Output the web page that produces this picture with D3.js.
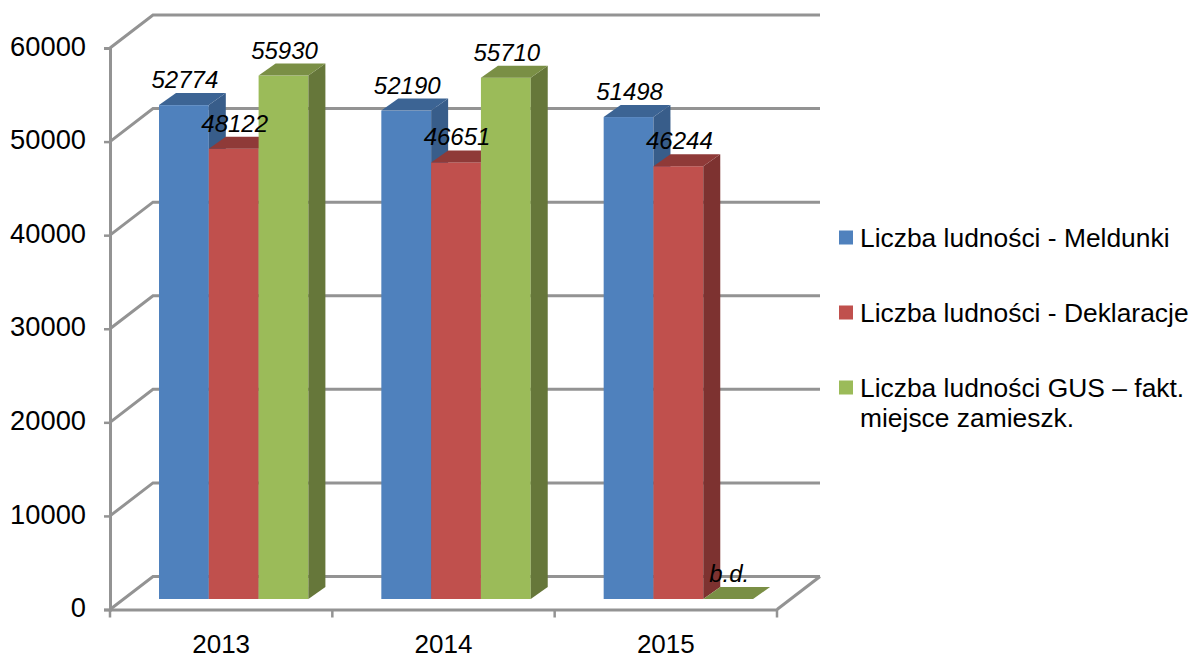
<!DOCTYPE html>
<html>
<head>
<meta charset="utf-8">
<script src="https://cdn.jsdelivr.net/npm/d3@7"></script>
<style>
  body { margin: 0; background: #fff; }
  text { font-family: "Liberation Sans", Arial, sans-serif; fill: #000; }
</style>
</head>
<body>
<div id="chart"></div>
<script>
var years = ["2013", "2014", "2015"];
var seriesNames = ["Liczba ludności - Meldunki", "Liczba ludności - Deklaracje", "Liczba ludności GUS – fakt."];
var meldunki = [52774, 52190, 51498];
var deklaracje = [48122, 46651, 46244];
var gus = [55930, 55710, null];   // 2015 = b.d.
var yTicks = [0, 10000, 20000, 30000, 40000, 50000, 60000];

var svgWidth = 1193, svgHeight = 659;
var grey = "#939393";

// wall / floor offset and bar depth of the fake 3D
var wallX = 43, wallY = -33;
var depthX = 17, depthY = -12;
var floorGap = 10.5;

var seriesValues = [meldunki, deklaracje, gus];
var seriesColors = [
  { face: "#4F81BD", side: "#385D8A", top: "#3C6494" },
  { face: "#C0504D", side: "#7D3230", top: "#8F3A38" },
  { face: "#9BBB59", side: "#66773A", top: "#7A8F45" }
];

var svg = d3.select("#chart").append("svg")
  .attr("width", svgWidth)
  .attr("height", svgHeight)
  .style("display", "block");

var xScale = d3.scaleBand().domain(years).range([110, 777]);
var yScale = d3.scaleLinear().domain([0, 60000]).range([609.5, 48]);
var barScale = d3.scaleBand().domain([0, 1, 2]).range([0, 149.4]);
var barOffset = 49;

// walls: side wall diagonals and back wall lines
var walls = svg.append("g").attr("stroke", grey).attr("stroke-width", 3).attr("fill", "none");
yTicks.forEach(function(t) {
  var y = yScale(t);
  walls.append("path")
    .attr("d", `M${xScale.range()[0]},${y}L${xScale.range()[0] + wallX},${y + wallY}H${xScale.range()[1] + wallX}`);
});
walls.append("path")
  .attr("d", `M${xScale.range()[1]},${yScale(0)}L${xScale.range()[1] + wallX},${yScale(0) + wallY}`);

// axes
var leftAxis = d3.axisLeft(yScale).tickValues(yTicks).tickFormat(d3.format("d")).tickSize(6).tickPadding(18);
var yAxis = svg.append("g").attr("transform", `translate(${xScale.range()[0]},0)`).call(leftAxis);
var bottomAxis = d3.axisBottom(xScale).tickSize(0).tickPadding(25);
var xAxis = svg.append("g").attr("transform", `translate(0,${yScale(0)})`).call(bottomAxis);
xAxis.selectAll(".tick")
  .append("line")
  .attr("stroke", grey)
  .attr("x1", -xScale.bandwidth() / 2)
  .attr("x2", -xScale.bandwidth() / 2)
  .attr("y1", 0)
  .attr("y2", 8);
xAxis.append("line")
  .attr("stroke", grey)
  .attr("stroke-width", 2.5)
  .attr("x1", xScale.range()[1])
  .attr("x2", xScale.range()[1])
  .attr("y1", 0)
  .attr("y2", 8);
[yAxis, xAxis].forEach(function(a) {
  a.select(".domain").attr("stroke", grey).attr("stroke-width", 3);
  a.selectAll(".tick line").attr("stroke", grey).attr("stroke-width", 2.5);
  a.selectAll("text").attr("font-family", '"Liberation Sans", Arial, sans-serif');
});
yAxis.selectAll("text").attr("font-size", 27.3).attr("dy", "0.26em");
xAxis.selectAll("text").attr("font-size", 26);

// bars, left to right so the next bar covers the side of the previous one
var barsGroup = svg.append("g");
var labelsGroup = svg.append("g")
  .attr("font-size", 24)
  .attr("font-style", "italic")
  .attr("text-anchor", "middle");

years.forEach(function(year, i) {
  seriesValues.forEach(function(values, s) {
    var v = values[i];
    var x0 = xScale(year) + barOffset + barScale(s);
    var x1 = x0 + barScale.bandwidth();
    var yBase = yScale(0) - floorGap;
    var yTop = yScale(v === null ? 0 : v) - floorGap;
    var c = seriesColors[s];

    if (v !== null) {
      barsGroup.append("rect")
        .attr("x", x0).attr("y", yTop)
        .attr("width", x1 - x0).attr("height", yBase - yTop)
        .attr("fill", c.face);
      barsGroup.append("path")
        .attr("d", `M${x1},${yTop}L${x1 + depthX},${yTop + depthY}V${yBase + depthY}L${x1},${yBase}Z`)
        .attr("fill", c.side);
    }
    barsGroup.append("path")
      .attr("d", `M${x0},${yTop}L${x0 + depthX},${yTop + depthY}H${x1 + depthX}L${x1},${yTop}Z`)
      .attr("fill", c.top);

    labelsGroup.append("text")
      .attr("x", (x0 + x1) / 2 + 1)
      .attr("y", yTop - 17)
      .text(v === null ? "b.d." : v);
  });
});

// legend
var legendRows = [
  { lines: [seriesNames[0]], y: 246.5 },
  { lines: [seriesNames[1]], y: 321.5 },
  { lines: [seriesNames[2], "miejsce zamieszk."], y: 396.5 }
];
var legend = svg.append("g").attr("font-size", 26.4);
legendRows.forEach(function(row, i) {
  legend.append("rect")
    .attr("x", 839).attr("y", row.y - 16)
    .attr("width", 14).attr("height", 14)
    .attr("fill", seriesColors[i].face);
  row.lines.forEach(function(line, j) {
    legend.append("text")
      .attr("x", 860)
      .attr("y", row.y + j * 30)
      .text(line);
  });
});
</script>
</body>
</html>
